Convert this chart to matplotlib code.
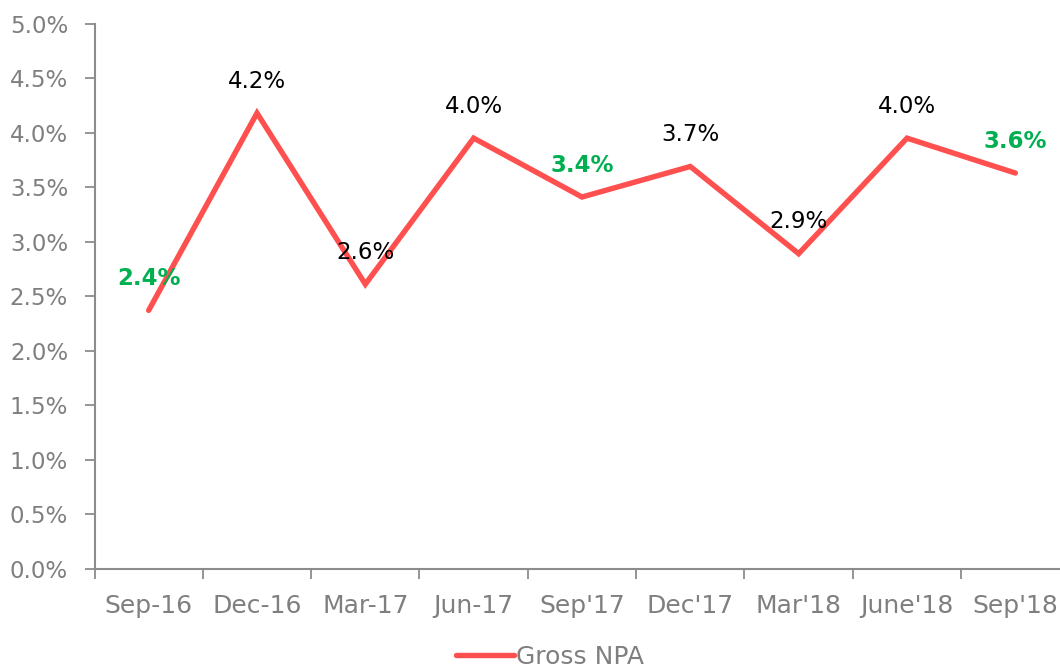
import matplotlib
matplotlib.use('Agg')
import matplotlib.pyplot as plt
from matplotlib.ticker import FixedLocator, FuncFormatter

# data
quarters = ['Sep-16', 'Dec-16', 'Mar-17', 'Jun-17', "Sep'17", "Dec'17", "Mar'18", "June'18", "Sep'18"]
gross_npa = [2.37, 4.18, 2.61, 3.95, 3.41, 3.69, 2.89, 3.95, 3.63]
labels = ['2.4%', '4.2%', '2.6%', '4.0%', '3.4%', '3.7%', '2.9%', '4.0%', '3.6%']
highlight = [True, False, False, False, True, False, False, False, True]

C_LINE = '#FF5050'
C_GREEN = '#00B050'
C_GRAY = '#7F7F7F'
C_AXIS = '#8C8C8C'

plt.rcParams['font.family'] = ['DejaVu Sans']

fig = plt.figure(figsize=(10.6, 6.71), dpi=100, facecolor='white')
ax = fig.add_axes([94.5 / 1060, 102.3 / 671, 975 / 1060, 545 / 671])

x = list(range(len(quarters)))
ax.plot(x, gross_npa, color=C_LINE, lw=3.9, solid_capstyle='round',
        solid_joinstyle='miter', label='Gross NPA', zorder=3)

for xi, yi, lab, hl in zip(x, gross_npa, labels, highlight):
    ax.annotate(lab, (xi, yi), xytext=(0, 23), textcoords='offset points',
                ha='center', va='center', fontsize=16.5,
                color=C_GREEN if hl else 'black',
                fontweight='bold' if hl else 'normal', zorder=4)

ax.set_xlim(-0.5, len(quarters) - 0.5)
ax.set_ylim(0, 5.0)

ax.set_yticks([i * 0.5 for i in range(11)])
ax.yaxis.set_major_formatter(FuncFormatter(lambda v, p: f'{v:.1f}%'))
ax.tick_params(axis='y', length=7, width=1.3, color=C_AXIS, labelcolor=C_GRAY,
               labelsize=16.5, pad=12)

ax.set_xticks(x)
ax.set_xticklabels(quarters)
ax.xaxis.set_minor_locator(FixedLocator([i - 0.5 for i in range(len(quarters) + 1)]))
ax.tick_params(axis='x', which='major', length=0, labelcolor=C_GRAY, labelsize=18, pad=18)
ax.tick_params(axis='x', which='minor', length=7, width=1.3, color=C_AXIS)

for s in ['top', 'right']:
    ax.spines[s].set_visible(False)
for s in ['left', 'bottom']:
    ax.spines[s].set_color(C_AXIS)
    ax.spines[s].set_linewidth(1.5)

leg = fig.legend(loc='center', bbox_to_anchor=(550 / 1060, 1 - 657 / 671), frameon=False,
                 fontsize=18, handlelength=2.3, handletextpad=0.1, labelcolor=C_GRAY)

fig.savefig('out.png', dpi=100, facecolor='white')
